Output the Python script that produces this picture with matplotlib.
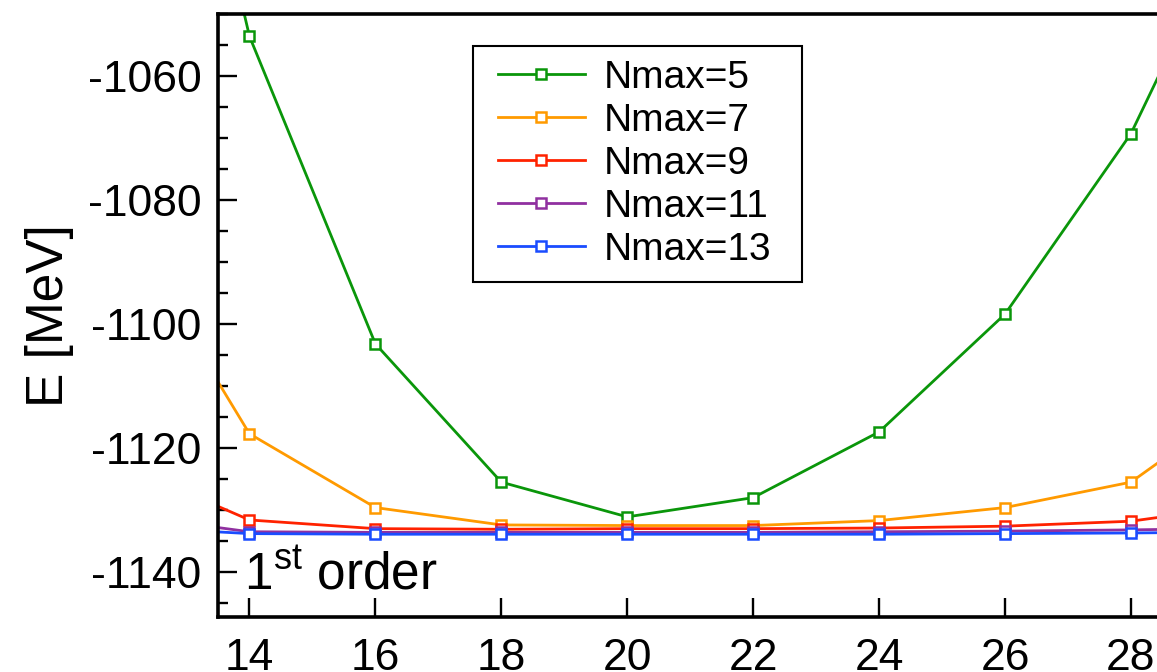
"""Nmax convergence of the ground-state energy vs. hbar*omega (1st order)."""

import matplotlib

matplotlib.use("Agg")
import matplotlib.pyplot as plt
from matplotlib.patches import Rectangle
from matplotlib.ticker import MultipleLocator

# hbar*omega grid; the 12 and 30 points sit outside the visible window
hw = [12, 14, 16, 18, 20, 22, 24, 26, 28, 30]

e_nmax5 = [-967.0, -1053.6, -1103.2, -1125.5, -1131.1, -1128.0, -1117.4, -1098.4, -1069.3, -1027.0]
e_nmax7 = [-1084.2, -1117.7, -1129.6, -1132.4, -1132.5, -1132.5, -1131.7, -1129.6, -1125.5, -1111.0]
e_nmax9 = [-1122.8, -1131.6, -1133.0, -1133.1, -1133.0, -1133.0, -1132.9, -1132.6, -1131.8, -1129.0]
e_nmax11 = [-1130.8, -1133.5, -1133.6, -1133.6, -1133.6, -1133.6, -1133.5, -1133.4, -1133.2, -1132.9]
e_nmax13 = [-1132.7, -1133.8, -1133.9, -1133.9, -1133.9, -1133.9, -1133.9, -1133.8, -1133.7, -1133.5]

labels = ["Nmax=5", "Nmax=7", "Nmax=9", "Nmax=11", "Nmax=13"]
colors = ["#0a960a", "#ff9a00", "#ff2200", "#9030a0", "#1a4cff"]

x_ticks = [14, 16, 18, 20, 22, 24, 26, 28]
y_ticks = [-1140, -1120, -1100, -1080, -1060]


def main() -> None:
    plt.rcParams["font.family"] = ["Liberation Sans", "DejaVu Sans"]
    plt.rcParams["mathtext.fontset"] = "custom"
    plt.rcParams["mathtext.rm"] = "Liberation Sans"
    plt.rcParams["axes.unicode_minus"] = False

    fig = plt.figure(figsize=(11.57, 6.72), dpi=100)
    W, H = 1157, 672
    left, right, top, bottom = 218, 1162.4, 14, 616.7
    ax = fig.add_axes([left / W, 1 - bottom / H, (right - left) / W, (bottom - top) / H])

    series = [e_nmax5, e_nmax7, e_nmax9, e_nmax11, e_nmax13]
    for vals, lab, col in zip(series, labels, colors):
        ax.plot(hw, vals, color=col, lw=2.0, marker="s", ms=6.5,
                mfc="white", mec=col, mew=1.8, label=lab)

    ax.set_xlim(13.5, 28.5)
    ax.set_ylim(-1147.2, -1050)
    ax.set_xticks(x_ticks)
    ax.set_yticks(y_ticks)
    ax.yaxis.set_minor_locator(MultipleLocator(5))

    for sp in ax.spines.values():
        sp.set_linewidth(2.6)
    ax.tick_params(axis="both", which="major", direction="in", length=14,
                   width=1.7, labelsize=32)
    ax.tick_params(axis="y", which="minor", direction="in", length=7, width=1.7)
    ax.tick_params(axis="x", which="major", pad=15)
    ax.tick_params(axis="y", which="major", pad=12)

    ax.set_ylabel("E [MeV]", fontsize=37)
    ax.yaxis.set_label_coords(-0.153, 0.5)

    ax.text(0.0275, 0.047, r"1$^{\mathrm{st}}$ order", transform=ax.transAxes,
            fontsize=37, ha="left", va="baseline")

    leg = ax.legend(loc="upper left", bbox_to_anchor=(484 / W, 1 - 46 / H),
                    bbox_transform=fig.transFigure, fontsize=28, frameon=False,
                    borderpad=0.35, labelspacing=0.18, handlelength=2.24,
                    handletextpad=0.5, borderaxespad=0)
    # legend frame drawn separately so its padding can differ per side
    fig.patches.append(Rectangle((473 / W, 1 - 282 / H), 329 / W, 236 / H,
                                 transform=fig.transFigure, fill=False,
                                 edgecolor="black", linewidth=1.5, zorder=5))

    fig.savefig("out.png", dpi=100)
    plt.close(fig)


if __name__ == "__main__":
    main()
